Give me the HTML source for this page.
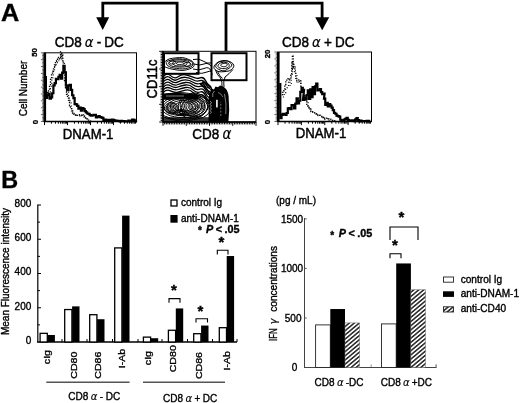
<!DOCTYPE html>
<html><head><meta charset="utf-8"><title>Figure</title>
<style>
html,body{margin:0;padding:0;background:#fff;}
svg{display:block;}
svg text{font-family:"Liberation Sans",sans-serif;fill:#000;stroke:#000;stroke-width:0.35px;}
svg .gk{font-family:"DejaVu Sans","Liberation Sans",sans-serif;font-style:italic;stroke-width:0.15px;}
svg text.big{stroke-width:0.42px;word-spacing:-0.6px;}
</style></head><body>
<svg width="520" height="403" viewBox="0 0 520 403">
<rect width="520" height="403" fill="#fff"/>
<text x="0.9" y="20.9" font-size="23.4" font-weight="bold" transform="translate(0.9 0) scale(1.08 1) translate(-0.9 0)">A</text>
<path d="M102.8 18 V3.1 H177.1 V51" fill="none" stroke="#000" stroke-width="2.8"/>
<polygon points="96.2,17.3 109.2,17.3 102.7,30" fill="#000"/>
<path d="M226 51 V3.1 H322.1 V18" fill="none" stroke="#000" stroke-width="2.8"/>
<polygon points="315.2,17.3 329.2,17.3 322.2,30.2" fill="#000"/>
<text class="big" x="54.7" y="47.2" font-size="13.5" transform="translate(0 47.2) scale(1 1.12) translate(0 -47.2)">CD8 <tspan class="gk" font-size="13.2">α</tspan> - DC</text>
<text class="big" x="281.9" y="47.2" font-size="13.5" transform="translate(0 47.2) scale(1 1.12) translate(0 -47.2)">CD8 <tspan class="gk" font-size="13.2">α</tspan> + DC</text>
<rect x="44.5" y="52.8" width="92.0" height="68.7" fill="none" stroke="#000" stroke-width="1"/>
<line x1="44.8" y1="52.8" x2="44.8" y2="122.0" stroke="#000" stroke-width="2.6"/>
<line x1="44.5" y1="121.5" x2="136.5" y2="121.5" stroke="#000" stroke-width="1.6"/>
<line x1="44.50" y1="121.5" x2="44.50" y2="125.1" stroke="#000" stroke-width="1.0"/>
<line x1="51.42" y1="121.5" x2="51.42" y2="123.7" stroke="#000" stroke-width="1.0"/>
<line x1="55.47" y1="121.5" x2="55.47" y2="123.7" stroke="#000" stroke-width="1.0"/>
<line x1="58.35" y1="121.5" x2="58.35" y2="123.7" stroke="#000" stroke-width="1.0"/>
<line x1="60.58" y1="121.5" x2="60.58" y2="123.7" stroke="#000" stroke-width="1.0"/>
<line x1="62.40" y1="121.5" x2="62.40" y2="123.7" stroke="#000" stroke-width="1.0"/>
<line x1="63.94" y1="121.5" x2="63.94" y2="123.7" stroke="#000" stroke-width="1.0"/>
<line x1="65.27" y1="121.5" x2="65.27" y2="123.7" stroke="#000" stroke-width="1.0"/>
<line x1="66.45" y1="121.5" x2="66.45" y2="123.7" stroke="#000" stroke-width="1.0"/>
<line x1="67.50" y1="121.5" x2="67.50" y2="125.1" stroke="#000" stroke-width="1.0"/>
<line x1="74.42" y1="121.5" x2="74.42" y2="123.7" stroke="#000" stroke-width="1.0"/>
<line x1="78.47" y1="121.5" x2="78.47" y2="123.7" stroke="#000" stroke-width="1.0"/>
<line x1="81.35" y1="121.5" x2="81.35" y2="123.7" stroke="#000" stroke-width="1.0"/>
<line x1="83.58" y1="121.5" x2="83.58" y2="123.7" stroke="#000" stroke-width="1.0"/>
<line x1="85.40" y1="121.5" x2="85.40" y2="123.7" stroke="#000" stroke-width="1.0"/>
<line x1="86.94" y1="121.5" x2="86.94" y2="123.7" stroke="#000" stroke-width="1.0"/>
<line x1="88.27" y1="121.5" x2="88.27" y2="123.7" stroke="#000" stroke-width="1.0"/>
<line x1="89.45" y1="121.5" x2="89.45" y2="123.7" stroke="#000" stroke-width="1.0"/>
<line x1="90.50" y1="121.5" x2="90.50" y2="125.1" stroke="#000" stroke-width="1.0"/>
<line x1="97.42" y1="121.5" x2="97.42" y2="123.7" stroke="#000" stroke-width="1.0"/>
<line x1="101.47" y1="121.5" x2="101.47" y2="123.7" stroke="#000" stroke-width="1.0"/>
<line x1="104.35" y1="121.5" x2="104.35" y2="123.7" stroke="#000" stroke-width="1.0"/>
<line x1="106.58" y1="121.5" x2="106.58" y2="123.7" stroke="#000" stroke-width="1.0"/>
<line x1="108.40" y1="121.5" x2="108.40" y2="123.7" stroke="#000" stroke-width="1.0"/>
<line x1="109.94" y1="121.5" x2="109.94" y2="123.7" stroke="#000" stroke-width="1.0"/>
<line x1="111.27" y1="121.5" x2="111.27" y2="123.7" stroke="#000" stroke-width="1.0"/>
<line x1="112.45" y1="121.5" x2="112.45" y2="123.7" stroke="#000" stroke-width="1.0"/>
<line x1="113.50" y1="121.5" x2="113.50" y2="125.1" stroke="#000" stroke-width="1.0"/>
<line x1="120.42" y1="121.5" x2="120.42" y2="123.7" stroke="#000" stroke-width="1.0"/>
<line x1="124.47" y1="121.5" x2="124.47" y2="123.7" stroke="#000" stroke-width="1.0"/>
<line x1="127.35" y1="121.5" x2="127.35" y2="123.7" stroke="#000" stroke-width="1.0"/>
<line x1="129.58" y1="121.5" x2="129.58" y2="123.7" stroke="#000" stroke-width="1.0"/>
<line x1="131.40" y1="121.5" x2="131.40" y2="123.7" stroke="#000" stroke-width="1.0"/>
<line x1="132.94" y1="121.5" x2="132.94" y2="123.7" stroke="#000" stroke-width="1.0"/>
<line x1="134.27" y1="121.5" x2="134.27" y2="123.7" stroke="#000" stroke-width="1.0"/>
<line x1="135.45" y1="121.5" x2="135.45" y2="123.7" stroke="#000" stroke-width="1.0"/>
<line x1="40.9" y1="121.50" x2="44.5" y2="121.50" stroke="#000" stroke-width="0.6"/>
<line x1="42.2" y1="120.13" x2="44.5" y2="120.13" stroke="#000" stroke-width="0.6"/>
<line x1="42.2" y1="118.75" x2="44.5" y2="118.75" stroke="#000" stroke-width="0.6"/>
<line x1="42.2" y1="117.38" x2="44.5" y2="117.38" stroke="#000" stroke-width="0.6"/>
<line x1="42.2" y1="116.00" x2="44.5" y2="116.00" stroke="#000" stroke-width="0.6"/>
<line x1="40.9" y1="114.63" x2="44.5" y2="114.63" stroke="#000" stroke-width="0.6"/>
<line x1="42.2" y1="113.26" x2="44.5" y2="113.26" stroke="#000" stroke-width="0.6"/>
<line x1="42.2" y1="111.88" x2="44.5" y2="111.88" stroke="#000" stroke-width="0.6"/>
<line x1="42.2" y1="110.51" x2="44.5" y2="110.51" stroke="#000" stroke-width="0.6"/>
<line x1="42.2" y1="109.13" x2="44.5" y2="109.13" stroke="#000" stroke-width="0.6"/>
<line x1="40.9" y1="107.76" x2="44.5" y2="107.76" stroke="#000" stroke-width="0.6"/>
<line x1="42.2" y1="106.39" x2="44.5" y2="106.39" stroke="#000" stroke-width="0.6"/>
<line x1="42.2" y1="105.01" x2="44.5" y2="105.01" stroke="#000" stroke-width="0.6"/>
<line x1="42.2" y1="103.64" x2="44.5" y2="103.64" stroke="#000" stroke-width="0.6"/>
<line x1="42.2" y1="102.26" x2="44.5" y2="102.26" stroke="#000" stroke-width="0.6"/>
<line x1="40.9" y1="100.89" x2="44.5" y2="100.89" stroke="#000" stroke-width="0.6"/>
<line x1="42.2" y1="99.52" x2="44.5" y2="99.52" stroke="#000" stroke-width="0.6"/>
<line x1="42.2" y1="98.14" x2="44.5" y2="98.14" stroke="#000" stroke-width="0.6"/>
<line x1="42.2" y1="96.77" x2="44.5" y2="96.77" stroke="#000" stroke-width="0.6"/>
<line x1="42.2" y1="95.39" x2="44.5" y2="95.39" stroke="#000" stroke-width="0.6"/>
<line x1="40.9" y1="94.02" x2="44.5" y2="94.02" stroke="#000" stroke-width="0.6"/>
<line x1="42.2" y1="92.65" x2="44.5" y2="92.65" stroke="#000" stroke-width="0.6"/>
<line x1="42.2" y1="91.27" x2="44.5" y2="91.27" stroke="#000" stroke-width="0.6"/>
<line x1="42.2" y1="89.90" x2="44.5" y2="89.90" stroke="#000" stroke-width="0.6"/>
<line x1="42.2" y1="88.52" x2="44.5" y2="88.52" stroke="#000" stroke-width="0.6"/>
<line x1="40.9" y1="87.15" x2="44.5" y2="87.15" stroke="#000" stroke-width="0.6"/>
<line x1="42.2" y1="85.78" x2="44.5" y2="85.78" stroke="#000" stroke-width="0.6"/>
<line x1="42.2" y1="84.40" x2="44.5" y2="84.40" stroke="#000" stroke-width="0.6"/>
<line x1="42.2" y1="83.03" x2="44.5" y2="83.03" stroke="#000" stroke-width="0.6"/>
<line x1="42.2" y1="81.65" x2="44.5" y2="81.65" stroke="#000" stroke-width="0.6"/>
<line x1="40.9" y1="80.28" x2="44.5" y2="80.28" stroke="#000" stroke-width="0.6"/>
<line x1="42.2" y1="78.91" x2="44.5" y2="78.91" stroke="#000" stroke-width="0.6"/>
<line x1="42.2" y1="77.53" x2="44.5" y2="77.53" stroke="#000" stroke-width="0.6"/>
<line x1="42.2" y1="76.16" x2="44.5" y2="76.16" stroke="#000" stroke-width="0.6"/>
<line x1="42.2" y1="74.78" x2="44.5" y2="74.78" stroke="#000" stroke-width="0.6"/>
<line x1="40.9" y1="73.41" x2="44.5" y2="73.41" stroke="#000" stroke-width="0.6"/>
<line x1="42.2" y1="72.04" x2="44.5" y2="72.04" stroke="#000" stroke-width="0.6"/>
<line x1="42.2" y1="70.66" x2="44.5" y2="70.66" stroke="#000" stroke-width="0.6"/>
<line x1="42.2" y1="69.29" x2="44.5" y2="69.29" stroke="#000" stroke-width="0.6"/>
<line x1="42.2" y1="67.91" x2="44.5" y2="67.91" stroke="#000" stroke-width="0.6"/>
<line x1="40.9" y1="66.54" x2="44.5" y2="66.54" stroke="#000" stroke-width="0.6"/>
<line x1="42.2" y1="65.17" x2="44.5" y2="65.17" stroke="#000" stroke-width="0.6"/>
<line x1="42.2" y1="63.79" x2="44.5" y2="63.79" stroke="#000" stroke-width="0.6"/>
<line x1="42.2" y1="62.42" x2="44.5" y2="62.42" stroke="#000" stroke-width="0.6"/>
<line x1="42.2" y1="61.04" x2="44.5" y2="61.04" stroke="#000" stroke-width="0.6"/>
<line x1="40.9" y1="59.67" x2="44.5" y2="59.67" stroke="#000" stroke-width="0.6"/>
<line x1="42.2" y1="58.30" x2="44.5" y2="58.30" stroke="#000" stroke-width="0.6"/>
<line x1="42.2" y1="56.92" x2="44.5" y2="56.92" stroke="#000" stroke-width="0.6"/>
<line x1="42.2" y1="55.55" x2="44.5" y2="55.55" stroke="#000" stroke-width="0.6"/>
<line x1="42.2" y1="54.17" x2="44.5" y2="54.17" stroke="#000" stroke-width="0.6"/>
<line x1="40.9" y1="52.80" x2="44.5" y2="52.80" stroke="#000" stroke-width="0.6"/>
<rect x="278" y="52" width="93.5" height="69.5" fill="none" stroke="#000" stroke-width="1"/>
<line x1="278.3" y1="52" x2="278.3" y2="122.0" stroke="#000" stroke-width="2.6"/>
<line x1="278" y1="121.5" x2="371.5" y2="121.5" stroke="#000" stroke-width="1.6"/>
<line x1="278.00" y1="121.5" x2="278.00" y2="125.1" stroke="#000" stroke-width="1.0"/>
<line x1="285.04" y1="121.5" x2="285.04" y2="123.7" stroke="#000" stroke-width="1.0"/>
<line x1="289.15" y1="121.5" x2="289.15" y2="123.7" stroke="#000" stroke-width="1.0"/>
<line x1="292.07" y1="121.5" x2="292.07" y2="123.7" stroke="#000" stroke-width="1.0"/>
<line x1="294.34" y1="121.5" x2="294.34" y2="123.7" stroke="#000" stroke-width="1.0"/>
<line x1="296.19" y1="121.5" x2="296.19" y2="123.7" stroke="#000" stroke-width="1.0"/>
<line x1="297.75" y1="121.5" x2="297.75" y2="123.7" stroke="#000" stroke-width="1.0"/>
<line x1="299.11" y1="121.5" x2="299.11" y2="123.7" stroke="#000" stroke-width="1.0"/>
<line x1="300.31" y1="121.5" x2="300.31" y2="123.7" stroke="#000" stroke-width="1.0"/>
<line x1="301.38" y1="121.5" x2="301.38" y2="125.1" stroke="#000" stroke-width="1.0"/>
<line x1="308.41" y1="121.5" x2="308.41" y2="123.7" stroke="#000" stroke-width="1.0"/>
<line x1="312.53" y1="121.5" x2="312.53" y2="123.7" stroke="#000" stroke-width="1.0"/>
<line x1="315.45" y1="121.5" x2="315.45" y2="123.7" stroke="#000" stroke-width="1.0"/>
<line x1="317.71" y1="121.5" x2="317.71" y2="123.7" stroke="#000" stroke-width="1.0"/>
<line x1="319.56" y1="121.5" x2="319.56" y2="123.7" stroke="#000" stroke-width="1.0"/>
<line x1="321.13" y1="121.5" x2="321.13" y2="123.7" stroke="#000" stroke-width="1.0"/>
<line x1="322.48" y1="121.5" x2="322.48" y2="123.7" stroke="#000" stroke-width="1.0"/>
<line x1="323.68" y1="121.5" x2="323.68" y2="123.7" stroke="#000" stroke-width="1.0"/>
<line x1="324.75" y1="121.5" x2="324.75" y2="125.1" stroke="#000" stroke-width="1.0"/>
<line x1="331.79" y1="121.5" x2="331.79" y2="123.7" stroke="#000" stroke-width="1.0"/>
<line x1="335.90" y1="121.5" x2="335.90" y2="123.7" stroke="#000" stroke-width="1.0"/>
<line x1="338.82" y1="121.5" x2="338.82" y2="123.7" stroke="#000" stroke-width="1.0"/>
<line x1="341.09" y1="121.5" x2="341.09" y2="123.7" stroke="#000" stroke-width="1.0"/>
<line x1="342.94" y1="121.5" x2="342.94" y2="123.7" stroke="#000" stroke-width="1.0"/>
<line x1="344.50" y1="121.5" x2="344.50" y2="123.7" stroke="#000" stroke-width="1.0"/>
<line x1="345.86" y1="121.5" x2="345.86" y2="123.7" stroke="#000" stroke-width="1.0"/>
<line x1="347.06" y1="121.5" x2="347.06" y2="123.7" stroke="#000" stroke-width="1.0"/>
<line x1="348.12" y1="121.5" x2="348.12" y2="125.1" stroke="#000" stroke-width="1.0"/>
<line x1="355.16" y1="121.5" x2="355.16" y2="123.7" stroke="#000" stroke-width="1.0"/>
<line x1="359.28" y1="121.5" x2="359.28" y2="123.7" stroke="#000" stroke-width="1.0"/>
<line x1="362.20" y1="121.5" x2="362.20" y2="123.7" stroke="#000" stroke-width="1.0"/>
<line x1="364.46" y1="121.5" x2="364.46" y2="123.7" stroke="#000" stroke-width="1.0"/>
<line x1="366.31" y1="121.5" x2="366.31" y2="123.7" stroke="#000" stroke-width="1.0"/>
<line x1="367.88" y1="121.5" x2="367.88" y2="123.7" stroke="#000" stroke-width="1.0"/>
<line x1="369.23" y1="121.5" x2="369.23" y2="123.7" stroke="#000" stroke-width="1.0"/>
<line x1="370.43" y1="121.5" x2="370.43" y2="123.7" stroke="#000" stroke-width="1.0"/>
<line x1="274.4" y1="121.50" x2="278" y2="121.50" stroke="#000" stroke-width="0.6"/>
<line x1="275.7" y1="120.11" x2="278" y2="120.11" stroke="#000" stroke-width="0.6"/>
<line x1="275.7" y1="118.72" x2="278" y2="118.72" stroke="#000" stroke-width="0.6"/>
<line x1="275.7" y1="117.33" x2="278" y2="117.33" stroke="#000" stroke-width="0.6"/>
<line x1="275.7" y1="115.94" x2="278" y2="115.94" stroke="#000" stroke-width="0.6"/>
<line x1="274.4" y1="114.55" x2="278" y2="114.55" stroke="#000" stroke-width="0.6"/>
<line x1="275.7" y1="113.16" x2="278" y2="113.16" stroke="#000" stroke-width="0.6"/>
<line x1="275.7" y1="111.77" x2="278" y2="111.77" stroke="#000" stroke-width="0.6"/>
<line x1="275.7" y1="110.38" x2="278" y2="110.38" stroke="#000" stroke-width="0.6"/>
<line x1="275.7" y1="108.99" x2="278" y2="108.99" stroke="#000" stroke-width="0.6"/>
<line x1="274.4" y1="107.60" x2="278" y2="107.60" stroke="#000" stroke-width="0.6"/>
<line x1="275.7" y1="106.21" x2="278" y2="106.21" stroke="#000" stroke-width="0.6"/>
<line x1="275.7" y1="104.82" x2="278" y2="104.82" stroke="#000" stroke-width="0.6"/>
<line x1="275.7" y1="103.43" x2="278" y2="103.43" stroke="#000" stroke-width="0.6"/>
<line x1="275.7" y1="102.04" x2="278" y2="102.04" stroke="#000" stroke-width="0.6"/>
<line x1="274.4" y1="100.65" x2="278" y2="100.65" stroke="#000" stroke-width="0.6"/>
<line x1="275.7" y1="99.26" x2="278" y2="99.26" stroke="#000" stroke-width="0.6"/>
<line x1="275.7" y1="97.87" x2="278" y2="97.87" stroke="#000" stroke-width="0.6"/>
<line x1="275.7" y1="96.48" x2="278" y2="96.48" stroke="#000" stroke-width="0.6"/>
<line x1="275.7" y1="95.09" x2="278" y2="95.09" stroke="#000" stroke-width="0.6"/>
<line x1="274.4" y1="93.70" x2="278" y2="93.70" stroke="#000" stroke-width="0.6"/>
<line x1="275.7" y1="92.31" x2="278" y2="92.31" stroke="#000" stroke-width="0.6"/>
<line x1="275.7" y1="90.92" x2="278" y2="90.92" stroke="#000" stroke-width="0.6"/>
<line x1="275.7" y1="89.53" x2="278" y2="89.53" stroke="#000" stroke-width="0.6"/>
<line x1="275.7" y1="88.14" x2="278" y2="88.14" stroke="#000" stroke-width="0.6"/>
<line x1="274.4" y1="86.75" x2="278" y2="86.75" stroke="#000" stroke-width="0.6"/>
<line x1="275.7" y1="85.36" x2="278" y2="85.36" stroke="#000" stroke-width="0.6"/>
<line x1="275.7" y1="83.97" x2="278" y2="83.97" stroke="#000" stroke-width="0.6"/>
<line x1="275.7" y1="82.58" x2="278" y2="82.58" stroke="#000" stroke-width="0.6"/>
<line x1="275.7" y1="81.19" x2="278" y2="81.19" stroke="#000" stroke-width="0.6"/>
<line x1="274.4" y1="79.80" x2="278" y2="79.80" stroke="#000" stroke-width="0.6"/>
<line x1="275.7" y1="78.41" x2="278" y2="78.41" stroke="#000" stroke-width="0.6"/>
<line x1="275.7" y1="77.02" x2="278" y2="77.02" stroke="#000" stroke-width="0.6"/>
<line x1="275.7" y1="75.63" x2="278" y2="75.63" stroke="#000" stroke-width="0.6"/>
<line x1="275.7" y1="74.24" x2="278" y2="74.24" stroke="#000" stroke-width="0.6"/>
<line x1="274.4" y1="72.85" x2="278" y2="72.85" stroke="#000" stroke-width="0.6"/>
<line x1="275.7" y1="71.46" x2="278" y2="71.46" stroke="#000" stroke-width="0.6"/>
<line x1="275.7" y1="70.07" x2="278" y2="70.07" stroke="#000" stroke-width="0.6"/>
<line x1="275.7" y1="68.68" x2="278" y2="68.68" stroke="#000" stroke-width="0.6"/>
<line x1="275.7" y1="67.29" x2="278" y2="67.29" stroke="#000" stroke-width="0.6"/>
<line x1="274.4" y1="65.90" x2="278" y2="65.90" stroke="#000" stroke-width="0.6"/>
<line x1="275.7" y1="64.51" x2="278" y2="64.51" stroke="#000" stroke-width="0.6"/>
<line x1="275.7" y1="63.12" x2="278" y2="63.12" stroke="#000" stroke-width="0.6"/>
<line x1="275.7" y1="61.73" x2="278" y2="61.73" stroke="#000" stroke-width="0.6"/>
<line x1="275.7" y1="60.34" x2="278" y2="60.34" stroke="#000" stroke-width="0.6"/>
<line x1="274.4" y1="58.95" x2="278" y2="58.95" stroke="#000" stroke-width="0.6"/>
<line x1="275.7" y1="57.56" x2="278" y2="57.56" stroke="#000" stroke-width="0.6"/>
<line x1="275.7" y1="56.17" x2="278" y2="56.17" stroke="#000" stroke-width="0.6"/>
<line x1="275.7" y1="54.78" x2="278" y2="54.78" stroke="#000" stroke-width="0.6"/>
<line x1="275.7" y1="53.39" x2="278" y2="53.39" stroke="#000" stroke-width="0.6"/>
<line x1="274.4" y1="52.00" x2="278" y2="52.00" stroke="#000" stroke-width="0.6"/>
<polyline points="45.90,76.00 45.90,97.86 47.15,97.86 47.15,95.07 48.40,95.07 48.40,93.96 49.65,93.96 49.65,98.54 50.90,98.54 50.90,97.31 52.15,97.31 52.15,93.25 53.40,93.25 53.40,85.38 54.65,85.38 54.65,83.08 55.90,83.08 55.90,78.84 57.15,78.84 57.15,79.24 58.40,79.24 58.40,76.85 59.65,76.85 59.65,74.84 60.90,74.84 60.90,78.57 62.15,78.57 62.15,72.53 63.40,72.53 63.40,65.92 64.65,65.92 64.65,72.43 65.90,72.43 65.90,85.73 67.15,85.73 67.15,90.17 68.40,90.17 68.40,85.41 69.65,85.41 69.65,84.90 70.90,84.90 70.90,89.95 72.15,89.95 72.15,95.23 73.40,95.23 73.40,98.15 74.65,98.15 74.65,104.11 75.90,104.11 75.90,104.38 77.15,104.38 77.15,105.78 78.40,105.78 78.40,108.62 79.65,108.62 79.65,107.69 80.90,107.69 80.90,110.60 82.15,110.60 82.15,108.07 83.40,108.07 83.40,109.09 84.65,109.09 84.65,111.03 85.90,111.03 85.90,112.46 87.15,112.46 87.15,113.49 88.40,113.49 88.40,113.89 89.65,113.89 89.65,115.21 90.90,115.21 90.90,115.73 92.15,115.73 92.15,115.47 93.40,115.47 93.40,114.83 94.65,114.83 94.65,114.83 95.90,114.83 95.90,117.41 97.15,117.41 97.15,116.73 98.40,116.73 98.40,115.99 99.65,115.99 99.65,117.07 100.90,117.07 100.90,117.30 102.15,117.30 102.15,117.93 103.40,117.93 103.40,119.81 104.65,119.81 104.65,119.57 105.90,119.57 105.90,119.82 107.15,119.82 107.15,120.41 108.40,120.41 108.40,119.76 109.65,119.76 109.65,119.85 110.90,119.85 110.90,120.29 112.15,120.29 112.15,119.48 113.40,119.48 113.40,120.14 114.65,120.14 114.65,120.64 115.90,120.64 115.90,120.55 117.15,120.55 117.15,120.90 118.40,120.90 118.40,120.99 119.65,120.99 119.65,121.30 120.90,121.30 120.90,120.84 122.15,120.84 122.15,121.24 123.40,121.24 123.40,121.20 124.65,121.20 124.65,121.30 125.90,121.30 125.90,121.30 127.15,121.30 127.15,121.25 128.40,121.25 128.40,120.68 129.65,120.68 129.65,121.30 130.90,121.30 130.90,120.82 132.15,120.82 132.15,119.58 133.40,119.58 133.40,119.88 134.65,119.88 134.65,120.95 135.90,120.95 135.90,121.30 137.15,121.30" fill="none" stroke="#000" stroke-width="2.2" stroke-linejoin="miter"/>
<polyline points="46.50,94.87 47.50,94.87 47.50,91.18 48.50,91.18 48.50,89.90 49.50,89.90 49.50,85.42 50.50,85.42 50.50,78.29 51.50,78.29 51.50,74.10 52.50,74.10 52.50,71.27 53.50,71.27 53.50,67.36 54.50,67.36 54.50,65.01 55.50,65.01 55.50,61.24 56.50,61.24 56.50,60.64 57.50,60.64 57.50,59.11 58.50,59.11 58.50,57.38 59.50,57.38 59.50,58.94 60.50,58.94 60.50,52.02 61.50,52.02 61.50,55.41 62.50,55.41 62.50,62.83 63.50,62.83 63.50,74.15 64.50,74.15 64.50,81.50 65.50,81.50 65.50,87.84 66.50,87.84 66.50,94.24 67.50,94.24 67.50,97.14 68.50,97.14 68.50,100.28 69.50,100.28 69.50,105.82 70.50,105.82 70.50,107.14 71.50,107.14 71.50,110.81 72.50,110.81 72.50,112.98 73.50,112.98 73.50,114.07 74.50,114.07 74.50,114.73 75.50,114.73 75.50,114.98 76.50,114.98 76.50,114.57 77.50,114.57 77.50,115.36 78.50,115.36 78.50,115.28 79.50,115.28 79.50,114.69 80.50,114.69 80.50,115.14 81.50,115.14 81.50,115.55 82.50,115.55 82.50,114.80 83.50,114.80 83.50,115.78 84.50,115.78 84.50,117.70 85.50,117.70 85.50,118.84 86.50,118.84 86.50,118.98 87.50,118.98 87.50,119.56 88.50,119.56 88.50,120.18 89.50,120.18 89.50,120.20 90.50,120.20 90.50,121.30 91.50,121.30" fill="none" stroke="#000" stroke-width="1.3" stroke-dasharray="1.3 1.4" stroke-linejoin="miter"/>
<polyline points="47.60,92.56 49.00,92.56 49.00,92.76 50.40,92.76 50.40,86.27 51.80,86.27 51.80,77.70 53.20,77.70 53.20,71.16 54.60,71.16 54.60,66.53 56.00,66.53 56.00,64.59 57.40,64.59 57.40,62.17 58.80,62.17 58.80,59.80 60.20,59.80 60.20,56.52 61.60,56.52 61.60,54.97 63.00,54.97 63.00,60.97 64.40,60.97 64.40,71.98 65.80,71.98 65.80,85.20 67.20,85.20 67.20,92.01 68.60,92.01 68.60,98.13 70.00,98.13 70.00,102.96 71.40,102.96 71.40,108.72 72.80,108.72 72.80,113.28 74.20,113.28 74.20,115.05 75.60,115.05 75.60,115.92 77.00,115.92 77.00,115.50 78.40,115.50 78.40,116.14 79.80,116.14 79.80,115.83 81.20,115.83 81.20,115.27 82.60,115.27 82.60,116.85 84.00,116.85 84.00,117.32 85.40,117.32 85.40,118.33 86.80,118.33 86.80,119.33 88.20,119.33" fill="none" stroke="#111" stroke-width="1.1" stroke-dasharray="1.1 2.2" stroke-linejoin="miter"/>
<polyline points="280.30,83.00 280.30,118.16 281.55,118.16 281.55,114.91 282.80,114.91 282.80,113.88 284.05,113.88 284.05,114.23 285.30,114.23 285.30,115.00 286.55,115.00 286.55,112.98 287.80,112.98 287.80,108.34 289.05,108.34 289.05,108.18 290.30,108.18 290.30,109.03 291.55,109.03 291.55,105.07 292.80,105.07 292.80,105.18 294.05,105.18 294.05,108.45 295.30,108.45 295.30,103.55 296.55,103.55 296.55,98.24 297.80,98.24 297.80,103.33 299.05,103.33 299.05,100.76 300.30,100.76 300.30,91.90 301.55,91.90 301.55,87.92 302.80,87.92 302.80,89.80 304.05,89.80 303.00,99.92 304.20,99.92 304.20,97.46 305.40,97.46 305.40,98.86 306.60,98.86 306.60,94.99 307.80,94.99 307.80,90.44 309.00,90.44 309.00,98.83 310.20,98.83 310.20,89.44 311.40,89.44 311.40,97.26 312.60,97.26 312.60,87.03 313.80,87.03 313.80,94.13 315.00,94.13 315.00,86.46 316.20,86.46 316.20,83.57 317.40,83.57 317.40,90.42 318.60,90.42 318.60,90.30 319.80,90.30 319.80,89.02 321.00,89.02 321.00,92.22 322.20,92.22 322.20,94.14 323.40,94.14 323.40,93.54 324.60,93.54 324.00,98.61 325.25,98.61 325.25,104.98 326.50,104.98 326.50,102.79 327.75,102.79 327.75,106.40 329.00,106.40 329.00,104.04 330.25,104.04 330.25,105.68 331.50,105.68 331.50,107.62 332.75,107.62 332.75,110.08 334.00,110.08 334.00,112.92 335.25,112.92 335.25,113.73 336.50,113.73 336.50,115.70 337.75,115.70 337.75,116.17 339.00,116.17 339.00,116.65 340.25,116.65 340.25,119.73 341.50,119.73 341.50,120.29 342.75,120.29 342.75,120.78 344.00,120.78 344.00,119.66 345.25,119.66 345.25,118.96 346.50,118.96 346.50,117.78 347.75,117.78 347.75,119.78 349.00,119.78 349.00,120.60 350.25,120.60 350.25,120.99 351.50,120.99 351.50,120.47 352.75,120.47 352.75,120.27 354.00,120.27 354.00,121.05 355.25,121.05 355.25,119.30 356.50,119.30 356.50,118.06 357.75,118.06 357.75,120.01 359.00,120.01 359.00,121.38 360.25,121.38 360.25,120.57 361.50,120.57 361.50,121.03 362.75,121.03 362.75,121.21 364.00,121.21 364.00,120.98 365.25,120.98 365.25,121.02 366.50,121.02 366.50,120.77 367.75,120.77 367.75,121.49 369.00,121.49 369.00,120.95 370.25,120.95" fill="none" stroke="#000" stroke-width="2.2" stroke-linejoin="miter"/>
<polyline points="281.80,94.67 282.80,94.67 282.80,91.14 283.80,91.14 283.80,89.12 284.80,89.12 284.80,86.21 285.80,86.21 285.80,81.12 286.80,81.12 286.80,79.14 287.80,79.14 287.80,78.88 288.80,78.88 288.80,79.91 289.80,79.91 289.80,79.28 290.80,79.28 290.80,73.60 291.80,73.60 291.80,61.98 292.80,61.98 292.80,63.47 293.80,63.47 293.80,67.76 294.80,67.76 294.80,73.42 295.80,73.42 295.80,78.29 296.80,78.29 296.80,80.53 297.80,80.53 297.80,80.18 298.80,80.18 298.80,80.01 299.80,80.01 299.80,80.66 300.80,80.66 300.80,86.16 301.80,86.16 301.80,88.71 302.80,88.71 302.80,91.68 303.80,91.68 303.80,94.99 304.80,94.99 304.80,99.74 305.80,99.74 305.80,101.35 306.80,101.35 306.80,105.70 307.80,105.70 307.80,107.20 308.80,107.20 308.80,108.96 309.80,108.96 309.80,108.97 310.80,108.97 310.80,111.68 311.80,111.68 311.80,111.86 312.80,111.86 312.80,112.44 313.80,112.44 313.80,112.86 314.80,112.86 314.80,113.62 315.80,113.62 315.80,113.74 316.80,113.74 316.80,113.64 317.80,113.64 317.80,114.82 318.80,114.82 318.80,115.11 319.80,115.11 319.80,115.41 320.80,115.41 320.80,116.40 321.80,116.40 321.80,117.31 322.80,117.31 322.80,117.51 323.80,117.51 323.80,117.24 324.80,117.24 324.80,118.54 325.80,118.54 325.80,118.47 326.80,118.47 326.80,118.19 327.80,118.19 327.80,118.58 328.80,118.58 328.80,119.16 329.80,119.16 329.80,119.19 330.80,119.19 330.80,119.71 331.80,119.71 331.80,120.42 332.80,120.42 332.80,120.80 333.80,120.80 333.80,120.76 334.80,120.76 334.80,120.53 335.80,120.53" fill="none" stroke="#000" stroke-width="1.3" stroke-dasharray="1.3 1.4" stroke-linejoin="miter"/>
<polyline points="282.90,97.00 284.30,97.00 284.30,92.93 285.70,92.93 285.70,87.97 287.10,87.97 287.10,85.50 288.50,85.50 288.50,79.72 289.90,79.72 289.90,85.55 291.30,85.55 291.30,74.44 292.70,74.44 292.70,67.59 294.10,67.59 294.10,65.79 295.50,65.79 295.50,75.48 296.90,75.48 296.90,83.01 298.30,83.01 298.30,80.73 299.70,80.73 299.70,81.65 301.10,81.65 301.10,88.10 302.50,88.10 302.50,91.60 303.90,91.60 303.90,94.05 305.30,94.05 305.30,99.72 306.70,99.72 306.70,101.86 308.10,101.86 308.10,105.73 309.50,105.73 309.50,107.99 310.90,107.99 310.90,110.46 312.30,110.46 312.30,111.49 313.70,111.49 313.70,112.75 315.10,112.75 315.10,113.62 316.50,113.62 316.50,115.75 317.90,115.75 317.90,114.76 319.30,114.76 319.30,115.23 320.70,115.23 320.70,116.90 322.10,116.90 322.10,117.67 323.50,117.67 323.50,117.28 324.90,117.28 324.90,119.39 326.30,119.39 326.30,118.81 327.70,118.81 327.70,118.74 329.10,118.74 329.10,120.27 330.50,120.27 330.50,120.03 331.90,120.03" fill="none" stroke="#111" stroke-width="1.1" stroke-dasharray="1.1 2.2" stroke-linejoin="miter"/>
<polyline points="292.30,70.00 292.30,55.50 293.30,55.50 293.30,68.00" fill="none" stroke="#000" stroke-width="1.2" stroke-dasharray="1.2 1.4" stroke-linejoin="miter"/>
<polyline points="60.60,58.00 60.60,53.50 61.80,53.50 61.80,60.00" fill="none" stroke="#000" stroke-width="1.2" stroke-dasharray="1.2 1.4" stroke-linejoin="miter"/>
<text x="88.1" y="138.8" font-size="13.2" text-anchor="middle" font-weight="normal" font-style="normal" transform="translate(88.1 138.8) scale(1 1.12) translate(-88.1 -138.8)" class="big">DNAM-1</text>
<text x="321" y="138.4" font-size="13.2" text-anchor="middle" font-weight="normal" font-style="normal" transform="translate(321 138.4) scale(1 1.12) translate(-321 -138.4)" class="big">DNAM-1</text>
<text x="27" y="88.5" font-size="10" text-anchor="middle" font-weight="normal" font-style="normal" transform="rotate(-90 27 88.5) translate(27 88.5) scale(1 1.06) translate(-27 -88.5)" >Cell Number</text>
<text x="37.5" y="52.4" font-size="7.8" text-anchor="middle" font-weight="bold" font-style="normal" transform="rotate(-90 37.5 52.4)" >50</text>
<text x="37.5" y="122" font-size="7.8" text-anchor="middle" font-weight="bold" font-style="normal" transform="rotate(-90 37.5 122)" >0</text>
<text x="269.5" y="54" font-size="7.8" text-anchor="middle" font-weight="bold" font-style="normal" transform="rotate(-90 269.5 54)" >20</text>
<text x="269.5" y="122" font-size="7.8" text-anchor="middle" font-weight="bold" font-style="normal" transform="rotate(-90 269.5 122)" >0</text>
<rect x="163" y="51.3" width="93" height="70.7" fill="none" stroke="#000" stroke-width="1"/>
<line x1="163" y1="51.3" x2="163" y2="122" stroke="#000" stroke-width="1.6"/>
<line x1="163" y1="122" x2="256" y2="122" stroke="#000" stroke-width="1.6"/>
<line x1="163.00" y1="122" x2="163.00" y2="125.8" stroke="#000" stroke-width="1.0"/>
<line x1="164.66" y1="122" x2="164.66" y2="124.4" stroke="#000" stroke-width="1.0"/>
<line x1="166.32" y1="122" x2="166.32" y2="124.4" stroke="#000" stroke-width="1.0"/>
<line x1="167.98" y1="122" x2="167.98" y2="124.4" stroke="#000" stroke-width="1.0"/>
<line x1="169.64" y1="122" x2="169.64" y2="124.4" stroke="#000" stroke-width="1.0"/>
<line x1="171.30" y1="122" x2="171.30" y2="124.4" stroke="#000" stroke-width="1.0"/>
<line x1="172.96" y1="122" x2="172.96" y2="124.4" stroke="#000" stroke-width="1.0"/>
<line x1="174.62" y1="122" x2="174.62" y2="124.4" stroke="#000" stroke-width="1.0"/>
<line x1="176.29" y1="122" x2="176.29" y2="124.4" stroke="#000" stroke-width="1.0"/>
<line x1="177.95" y1="122" x2="177.95" y2="124.4" stroke="#000" stroke-width="1.0"/>
<line x1="179.61" y1="122" x2="179.61" y2="124.4" stroke="#000" stroke-width="1.0"/>
<line x1="181.27" y1="122" x2="181.27" y2="124.4" stroke="#000" stroke-width="1.0"/>
<line x1="182.93" y1="122" x2="182.93" y2="124.4" stroke="#000" stroke-width="1.0"/>
<line x1="184.59" y1="122" x2="184.59" y2="124.4" stroke="#000" stroke-width="1.0"/>
<line x1="186.25" y1="122" x2="186.25" y2="125.8" stroke="#000" stroke-width="1.0"/>
<line x1="187.91" y1="122" x2="187.91" y2="124.4" stroke="#000" stroke-width="1.0"/>
<line x1="189.57" y1="122" x2="189.57" y2="124.4" stroke="#000" stroke-width="1.0"/>
<line x1="191.23" y1="122" x2="191.23" y2="124.4" stroke="#000" stroke-width="1.0"/>
<line x1="192.89" y1="122" x2="192.89" y2="124.4" stroke="#000" stroke-width="1.0"/>
<line x1="194.55" y1="122" x2="194.55" y2="124.4" stroke="#000" stroke-width="1.0"/>
<line x1="196.21" y1="122" x2="196.21" y2="124.4" stroke="#000" stroke-width="1.0"/>
<line x1="197.88" y1="122" x2="197.88" y2="124.4" stroke="#000" stroke-width="1.0"/>
<line x1="199.54" y1="122" x2="199.54" y2="124.4" stroke="#000" stroke-width="1.0"/>
<line x1="201.20" y1="122" x2="201.20" y2="124.4" stroke="#000" stroke-width="1.0"/>
<line x1="202.86" y1="122" x2="202.86" y2="124.4" stroke="#000" stroke-width="1.0"/>
<line x1="204.52" y1="122" x2="204.52" y2="124.4" stroke="#000" stroke-width="1.0"/>
<line x1="206.18" y1="122" x2="206.18" y2="124.4" stroke="#000" stroke-width="1.0"/>
<line x1="207.84" y1="122" x2="207.84" y2="124.4" stroke="#000" stroke-width="1.0"/>
<line x1="209.50" y1="122" x2="209.50" y2="125.8" stroke="#000" stroke-width="1.0"/>
<line x1="211.16" y1="122" x2="211.16" y2="124.4" stroke="#000" stroke-width="1.0"/>
<line x1="212.82" y1="122" x2="212.82" y2="124.4" stroke="#000" stroke-width="1.0"/>
<line x1="214.48" y1="122" x2="214.48" y2="124.4" stroke="#000" stroke-width="1.0"/>
<line x1="216.14" y1="122" x2="216.14" y2="124.4" stroke="#000" stroke-width="1.0"/>
<line x1="217.80" y1="122" x2="217.80" y2="124.4" stroke="#000" stroke-width="1.0"/>
<line x1="219.46" y1="122" x2="219.46" y2="124.4" stroke="#000" stroke-width="1.0"/>
<line x1="221.12" y1="122" x2="221.12" y2="124.4" stroke="#000" stroke-width="1.0"/>
<line x1="222.79" y1="122" x2="222.79" y2="124.4" stroke="#000" stroke-width="1.0"/>
<line x1="224.45" y1="122" x2="224.45" y2="124.4" stroke="#000" stroke-width="1.0"/>
<line x1="226.11" y1="122" x2="226.11" y2="124.4" stroke="#000" stroke-width="1.0"/>
<line x1="227.77" y1="122" x2="227.77" y2="124.4" stroke="#000" stroke-width="1.0"/>
<line x1="229.43" y1="122" x2="229.43" y2="124.4" stroke="#000" stroke-width="1.0"/>
<line x1="231.09" y1="122" x2="231.09" y2="124.4" stroke="#000" stroke-width="1.0"/>
<line x1="232.75" y1="122" x2="232.75" y2="125.8" stroke="#000" stroke-width="1.0"/>
<line x1="234.41" y1="122" x2="234.41" y2="124.4" stroke="#000" stroke-width="1.0"/>
<line x1="236.07" y1="122" x2="236.07" y2="124.4" stroke="#000" stroke-width="1.0"/>
<line x1="237.73" y1="122" x2="237.73" y2="124.4" stroke="#000" stroke-width="1.0"/>
<line x1="239.39" y1="122" x2="239.39" y2="124.4" stroke="#000" stroke-width="1.0"/>
<line x1="241.05" y1="122" x2="241.05" y2="124.4" stroke="#000" stroke-width="1.0"/>
<line x1="242.71" y1="122" x2="242.71" y2="124.4" stroke="#000" stroke-width="1.0"/>
<line x1="244.38" y1="122" x2="244.38" y2="124.4" stroke="#000" stroke-width="1.0"/>
<line x1="246.04" y1="122" x2="246.04" y2="124.4" stroke="#000" stroke-width="1.0"/>
<line x1="247.70" y1="122" x2="247.70" y2="124.4" stroke="#000" stroke-width="1.0"/>
<line x1="249.36" y1="122" x2="249.36" y2="124.4" stroke="#000" stroke-width="1.0"/>
<line x1="251.02" y1="122" x2="251.02" y2="124.4" stroke="#000" stroke-width="1.0"/>
<line x1="252.68" y1="122" x2="252.68" y2="124.4" stroke="#000" stroke-width="1.0"/>
<line x1="254.34" y1="122" x2="254.34" y2="124.4" stroke="#000" stroke-width="1.0"/>
<line x1="256.00" y1="122" x2="256.00" y2="125.8" stroke="#000" stroke-width="1.0"/>
<line x1="159.2" y1="122.00" x2="163" y2="122.00" stroke="#000" stroke-width="0.95"/>
<line x1="160.6" y1="120.39" x2="163" y2="120.39" stroke="#000" stroke-width="0.95"/>
<line x1="160.6" y1="118.79" x2="163" y2="118.79" stroke="#000" stroke-width="0.95"/>
<line x1="160.6" y1="117.18" x2="163" y2="117.18" stroke="#000" stroke-width="0.95"/>
<line x1="160.6" y1="115.57" x2="163" y2="115.57" stroke="#000" stroke-width="0.95"/>
<line x1="160.6" y1="113.97" x2="163" y2="113.97" stroke="#000" stroke-width="0.95"/>
<line x1="160.6" y1="112.36" x2="163" y2="112.36" stroke="#000" stroke-width="0.95"/>
<line x1="160.6" y1="110.75" x2="163" y2="110.75" stroke="#000" stroke-width="0.95"/>
<line x1="160.6" y1="109.15" x2="163" y2="109.15" stroke="#000" stroke-width="0.95"/>
<line x1="160.6" y1="107.54" x2="163" y2="107.54" stroke="#000" stroke-width="0.95"/>
<line x1="160.6" y1="105.93" x2="163" y2="105.93" stroke="#000" stroke-width="0.95"/>
<line x1="159.2" y1="104.33" x2="163" y2="104.33" stroke="#000" stroke-width="0.95"/>
<line x1="160.6" y1="102.72" x2="163" y2="102.72" stroke="#000" stroke-width="0.95"/>
<line x1="160.6" y1="101.11" x2="163" y2="101.11" stroke="#000" stroke-width="0.95"/>
<line x1="160.6" y1="99.50" x2="163" y2="99.50" stroke="#000" stroke-width="0.95"/>
<line x1="160.6" y1="97.90" x2="163" y2="97.90" stroke="#000" stroke-width="0.95"/>
<line x1="160.6" y1="96.29" x2="163" y2="96.29" stroke="#000" stroke-width="0.95"/>
<line x1="160.6" y1="94.68" x2="163" y2="94.68" stroke="#000" stroke-width="0.95"/>
<line x1="160.6" y1="93.08" x2="163" y2="93.08" stroke="#000" stroke-width="0.95"/>
<line x1="160.6" y1="91.47" x2="163" y2="91.47" stroke="#000" stroke-width="0.95"/>
<line x1="160.6" y1="89.86" x2="163" y2="89.86" stroke="#000" stroke-width="0.95"/>
<line x1="160.6" y1="88.26" x2="163" y2="88.26" stroke="#000" stroke-width="0.95"/>
<line x1="159.2" y1="86.65" x2="163" y2="86.65" stroke="#000" stroke-width="0.95"/>
<line x1="160.6" y1="85.04" x2="163" y2="85.04" stroke="#000" stroke-width="0.95"/>
<line x1="160.6" y1="83.44" x2="163" y2="83.44" stroke="#000" stroke-width="0.95"/>
<line x1="160.6" y1="81.83" x2="163" y2="81.83" stroke="#000" stroke-width="0.95"/>
<line x1="160.6" y1="80.22" x2="163" y2="80.22" stroke="#000" stroke-width="0.95"/>
<line x1="160.6" y1="78.62" x2="163" y2="78.62" stroke="#000" stroke-width="0.95"/>
<line x1="160.6" y1="77.01" x2="163" y2="77.01" stroke="#000" stroke-width="0.95"/>
<line x1="160.6" y1="75.40" x2="163" y2="75.40" stroke="#000" stroke-width="0.95"/>
<line x1="160.6" y1="73.80" x2="163" y2="73.80" stroke="#000" stroke-width="0.95"/>
<line x1="160.6" y1="72.19" x2="163" y2="72.19" stroke="#000" stroke-width="0.95"/>
<line x1="160.6" y1="70.58" x2="163" y2="70.58" stroke="#000" stroke-width="0.95"/>
<line x1="159.2" y1="68.97" x2="163" y2="68.97" stroke="#000" stroke-width="0.95"/>
<line x1="160.6" y1="67.37" x2="163" y2="67.37" stroke="#000" stroke-width="0.95"/>
<line x1="160.6" y1="65.76" x2="163" y2="65.76" stroke="#000" stroke-width="0.95"/>
<line x1="160.6" y1="64.15" x2="163" y2="64.15" stroke="#000" stroke-width="0.95"/>
<line x1="160.6" y1="62.55" x2="163" y2="62.55" stroke="#000" stroke-width="0.95"/>
<line x1="160.6" y1="60.94" x2="163" y2="60.94" stroke="#000" stroke-width="0.95"/>
<line x1="160.6" y1="59.33" x2="163" y2="59.33" stroke="#000" stroke-width="0.95"/>
<line x1="160.6" y1="57.73" x2="163" y2="57.73" stroke="#000" stroke-width="0.95"/>
<line x1="160.6" y1="56.12" x2="163" y2="56.12" stroke="#000" stroke-width="0.95"/>
<line x1="160.6" y1="54.51" x2="163" y2="54.51" stroke="#000" stroke-width="0.95"/>
<line x1="160.6" y1="52.91" x2="163" y2="52.91" stroke="#000" stroke-width="0.95"/>
<line x1="159.2" y1="51.30" x2="163" y2="51.30" stroke="#000" stroke-width="0.95"/>
<clipPath id="cclip"><rect x="163" y="51.3" width="93" height="70.7"/></clipPath>
<g clip-path="url(#cclip)">
<g fill="none" stroke="#000" stroke-width="1.0" stroke-linejoin="round">
<path d="M183.5 63.0 Q183.9 63.3 183.6 63.6 Q183.4 63.9 182.9 64.1 Q182.4 64.3 181.6 64.4 Q180.8 64.5 179.9 64.6 Q179.1 64.6 178.3 64.5 Q177.5 64.4 177.0 64.1 Q176.5 63.9 176.5 63.6 Q176.5 63.3 176.5 63.0 Q176.6 62.7 177.1 62.5 Q177.7 62.3 178.5 62.2 Q179.2 62.1 180.1 62.0 Q180.9 61.9 181.8 62.1 Q182.6 62.2 182.9 62.5 Q183.1 62.8 183.5 63.0Z"/>
<path d="M187.1 62.9 Q187.2 63.4 186.9 64.0 Q186.6 64.6 185.8 65.1 Q184.9 65.7 183.2 65.8 Q181.5 66.0 179.8 66.0 Q178.1 66.0 176.6 65.8 Q175.0 65.5 174.3 65.0 Q173.5 64.5 172.9 64.0 Q172.3 63.4 172.6 62.9 Q172.9 62.3 173.9 61.8 Q174.8 61.3 176.6 61.2 Q178.3 61.1 179.8 61.1 Q181.4 61.0 182.7 61.3 Q184.1 61.6 185.5 61.9 Q187.0 62.3 187.1 62.9Z"/>
<path d="M190.0 62.8 Q190.5 63.6 190.2 64.5 Q189.8 65.3 188.3 66.0 Q186.7 66.8 184.3 66.9 Q181.9 67.1 179.6 67.1 Q177.4 67.0 175.2 66.8 Q172.9 66.6 171.5 65.9 Q170.1 65.2 169.0 64.4 Q167.9 63.6 168.6 62.7 Q169.3 61.8 171.0 61.2 Q172.6 60.5 174.9 60.1 Q177.1 59.8 179.6 59.7 Q182.1 59.7 184.0 60.2 Q186.0 60.8 187.7 61.3 Q189.4 61.9 190.0 62.8Z"/>
<path d="M192.3 62.6 Q192.7 63.8 192.6 64.9 Q192.5 66.1 190.5 67.0 Q188.5 68.0 185.6 68.6 Q182.7 69.2 179.6 68.8 Q176.5 68.5 173.8 68.0 Q171.1 67.6 169.4 66.7 Q167.7 65.8 166.9 64.8 Q166.2 63.8 166.2 62.6 Q166.2 61.4 168.8 60.7 Q171.3 60.0 173.8 59.3 Q176.3 58.6 179.3 58.8 Q182.3 59.0 185.1 59.4 Q187.8 59.9 189.8 60.7 Q191.8 61.5 192.3 62.6Z"/>
<path d="M193.4 62.6 Q193.9 63.9 194.1 65.3 Q194.2 66.8 191.8 67.9 Q189.5 69.1 186.3 69.9 Q183.1 70.7 179.4 70.3 Q175.8 69.9 172.8 69.3 Q169.7 68.7 166.9 67.7 Q164.1 66.8 163.4 65.4 Q162.7 63.9 164.0 62.6 Q165.4 61.2 167.1 60.0 Q168.9 58.7 172.3 58.3 Q175.7 57.8 179.3 57.6 Q183.0 57.3 185.7 58.3 Q188.4 59.3 190.6 60.3 Q192.8 61.3 193.4 62.6Z"/>
<path d="M175.5 62.1 Q175.8 62.5 175.6 63.0 Q175.4 63.4 174.5 63.7 Q173.6 64.0 172.5 64.0 Q171.4 64.1 170.5 63.8 Q169.6 63.5 169.5 63.0 Q169.3 62.5 169.6 62.1 Q169.9 61.7 170.6 61.3 Q171.3 60.9 172.4 61.0 Q173.5 61.1 174.4 61.3 Q175.2 61.6 175.5 62.1Z"/>
<path d="M190.9 63.9 Q191.3 64.5 190.9 65.0 Q190.5 65.6 189.6 66.0 Q188.7 66.4 187.5 66.3 Q186.3 66.3 185.4 65.9 Q184.5 65.6 184.1 65.0 Q183.6 64.5 183.8 63.9 Q184.0 63.2 185.1 62.9 Q186.2 62.5 187.5 62.5 Q188.8 62.5 189.7 62.9 Q190.6 63.4 190.9 63.9Z"/>
<path d="M227.2 64.2 Q227.4 64.6 227.2 65.1 Q227.0 65.6 226.4 66.0 Q225.8 66.4 225.0 66.6 Q224.2 66.8 223.4 66.7 Q222.6 66.6 221.9 66.4 Q221.3 66.2 220.9 65.8 Q220.6 65.4 220.8 64.9 Q220.9 64.4 221.6 64.0 Q222.2 63.7 223.0 63.6 Q223.8 63.4 224.6 63.4 Q225.4 63.4 226.2 63.6 Q226.9 63.8 227.2 64.2Z"/>
<path d="M228.8 64.0 Q229.2 64.8 229.2 65.7 Q229.2 66.6 228.1 67.4 Q227.1 68.1 225.6 68.4 Q224.2 68.8 222.8 68.6 Q221.4 68.4 220.0 68.1 Q218.7 67.7 218.2 66.9 Q217.7 66.0 218.1 65.1 Q218.6 64.2 219.6 63.5 Q220.6 62.8 222.0 62.5 Q223.5 62.2 224.8 62.3 Q226.1 62.5 227.3 62.9 Q228.5 63.2 228.8 64.0Z"/>
<path d="M231.3 63.8 Q232.5 64.9 231.4 66.1 Q230.4 67.4 229.0 68.3 Q227.7 69.2 225.9 70.2 Q224.2 71.2 222.2 70.7 Q220.2 70.2 218.8 69.4 Q217.3 68.7 216.3 67.7 Q215.2 66.7 215.9 65.4 Q216.5 64.2 217.6 62.9 Q218.7 61.7 220.9 61.5 Q223.1 61.2 225.3 61.0 Q227.6 60.7 228.9 61.7 Q230.2 62.7 231.3 63.8Z"/>
<path d="M232.9 63.7 Q234.2 65.1 233.7 66.8 Q233.1 68.5 231.2 69.8 Q229.3 71.2 226.7 71.4 Q224.0 71.7 221.4 71.8 Q218.9 72.0 217.1 71.0 Q215.2 70.0 214.3 68.6 Q213.4 67.3 214.3 65.8 Q215.1 64.3 216.7 63.1 Q218.2 61.8 220.5 61.1 Q222.8 60.3 225.2 60.6 Q227.6 60.8 229.6 61.6 Q231.6 62.3 232.9 63.7Z"/>
<path d="M215.5 70 Q217 75 220.5 78 Q222.5 82 222 87"/>
<path d="M217.5 71.5 Q219.5 76 222.5 78.5"/>
<path d="M233 69.5 Q229 74 225 77 Q223 82 224 87"/>
<path d="M193 59.5 Q199 58 203 61 T211 63"/><path d="M194 64 Q200 66 204 64 T212 67"/><path d="M193 69 Q199 71 204 68.5 T211 71"/><path d="M196 72.5 Q202 74.5 207 72 T212 75"/>
<path d="M163 77.4 Q166.5 71.8 170.5 75.6 T178 76.8 T185.5 74.8 T193 77.2 T200 77.8 T205.5 80.6 T209.5 85.6 T212 91.6" stroke-width="1.3"/>
<path d="M163 79.9 Q166.5 74.6 170.5 78.1 T178 79.3 T185.5 77.3 T193 79.7 T200 80.6 T205.5 83.6 T209.5 88.5 T212 94.1" stroke-width="1.3"/>
<path d="M163 82.5 Q166.5 77.5 170.5 80.7 T178 81.9 T185.5 79.9 T193 82.3 T200 83.5 T205.5 86.7 T209.5 91.5 T212 96.7" stroke-width="1.3"/>
<path d="M163 85.0 Q166.5 80.3 170.5 83.2 T178 84.5 T185.5 82.5 T193 84.8 T200 86.4 T205.5 89.8 T209.5 94.5 T212 99.2" stroke-width="1.3"/>
<path d="M163 87.6 Q166.5 83.2 170.5 85.8 T178 87.0 T185.5 85.0 T193 87.4 T200 89.2 T205.5 92.8 T209.5 97.4 T212 101.8" stroke-width="1.3"/>
<path d="M163 90.1 Q166.5 86.0 170.5 88.3 T178 89.5 T185.5 87.5 T193 89.9 T200 92.0 T205.5 95.8 T209.5 100.3 T212 104.3" stroke-width="1.3"/>
<path d="M163 92.7 Q166.5 88.9 170.5 90.9 T178 92.1 T185.5 90.1 T193 92.5 T200 94.9 T205.5 98.9 T209.5 103.3 T212 106.9" stroke-width="1.3"/>
<path d="M200 84 Q205 86 208 91 T210 100" stroke-width="1.6"/>
<path d="M202 82 Q207 83 210.5 88" stroke-width="1.4"/>
<path d="M172.7 108.0 Q172.8 108.3 172.7 108.6 Q172.5 108.9 172.3 109.1 Q172.0 109.3 171.7 109.4 Q171.3 109.6 170.9 109.5 Q170.5 109.4 170.3 109.1 Q170.0 108.9 169.9 108.6 Q169.8 108.3 169.9 108.0 Q170.0 107.7 170.3 107.5 Q170.5 107.2 170.9 107.2 Q171.3 107.1 171.7 107.1 Q172.1 107.2 172.4 107.4 Q172.6 107.7 172.7 108.0Z"/>
<path d="M174.1 107.7 Q174.4 108.3 174.0 108.9 Q173.7 109.4 173.2 109.9 Q172.7 110.3 172.0 110.4 Q171.3 110.6 170.5 110.5 Q169.7 110.5 169.2 110.0 Q168.6 109.5 168.4 108.9 Q168.1 108.3 168.5 107.7 Q168.9 107.2 169.3 106.7 Q169.8 106.2 170.6 106.2 Q171.3 106.1 172.0 106.2 Q172.7 106.3 173.3 106.7 Q173.9 107.1 174.1 107.7Z"/>
<path d="M175.4 107.3 Q175.5 108.3 175.4 109.2 Q175.3 110.2 174.4 110.7 Q173.4 111.2 172.4 111.6 Q171.3 111.9 170.1 111.7 Q169.0 111.5 168.1 110.8 Q167.2 110.2 167.0 109.2 Q166.8 108.3 167.1 107.4 Q167.4 106.5 168.3 106.0 Q169.2 105.4 170.3 105.1 Q171.3 104.7 172.4 105.0 Q173.5 105.2 174.5 105.8 Q175.4 106.4 175.4 107.3Z"/>
<path d="M176.9 107.1 Q177.2 108.3 176.9 109.5 Q176.5 110.7 175.5 111.7 Q174.5 112.7 172.9 112.8 Q171.3 112.9 169.9 112.6 Q168.4 112.3 167.5 111.4 Q166.5 110.5 166.1 109.4 Q165.7 108.3 166.1 107.2 Q166.5 106.1 167.5 105.2 Q168.5 104.4 169.9 103.9 Q171.3 103.5 172.9 103.7 Q174.5 103.8 175.6 104.8 Q176.7 105.8 176.9 107.1Z"/>
<path d="M178.2 106.8 Q178.5 108.3 178.2 109.8 Q177.8 111.3 176.3 112.2 Q174.8 113.1 173.0 113.6 Q171.3 114.1 169.6 113.6 Q167.8 113.1 166.6 112.1 Q165.3 111.1 164.7 109.7 Q164.1 108.3 164.6 106.9 Q165.2 105.5 166.4 104.4 Q167.7 103.3 169.5 102.7 Q171.3 102.1 173.0 102.8 Q174.8 103.5 176.3 104.4 Q177.9 105.2 178.2 106.8Z"/>
<path d="M194.3 105.2 Q194.4 105.6 194.4 105.9 Q194.3 106.3 194.2 106.7 Q194.0 107.1 193.6 107.2 Q193.3 107.4 192.9 107.4 Q192.5 107.5 192.1 107.4 Q191.7 107.3 191.5 107.1 Q191.2 106.8 191.1 106.4 Q191.0 106.0 191.0 105.7 Q191.0 105.3 191.2 105.0 Q191.4 104.6 191.7 104.4 Q192.1 104.2 192.4 104.1 Q192.8 104.0 193.2 104.1 Q193.6 104.2 193.9 104.5 Q194.1 104.8 194.3 105.2Z"/>
<path d="M196.1 104.7 Q196.5 105.3 196.2 106.0 Q196.0 106.7 195.7 107.3 Q195.5 108.0 194.7 108.3 Q193.9 108.6 193.2 108.7 Q192.5 108.9 191.7 108.8 Q190.9 108.7 190.4 108.1 Q189.9 107.5 189.6 106.9 Q189.3 106.3 189.5 105.6 Q189.6 104.9 189.9 104.3 Q190.1 103.6 190.8 103.1 Q191.5 102.7 192.3 102.8 Q193.1 102.8 193.8 103.0 Q194.5 103.2 195.1 103.6 Q195.7 104.0 196.1 104.7Z"/>
<path d="M197.8 104.1 Q198.1 105.1 197.9 106.0 Q197.8 107.0 197.3 108.0 Q196.9 109.0 195.8 109.4 Q194.7 109.9 193.6 110.0 Q192.4 110.0 191.3 109.9 Q190.1 109.8 189.4 109.0 Q188.8 108.2 188.4 107.4 Q188.0 106.5 188.1 105.6 Q188.3 104.6 188.7 103.7 Q189.2 102.8 190.1 102.1 Q191.1 101.5 192.3 101.4 Q193.5 101.3 194.6 101.7 Q195.6 102.1 196.6 102.6 Q197.6 103.1 197.8 104.1Z"/>
<path d="M199.7 103.5 Q200.0 104.8 199.9 106.1 Q199.8 107.4 198.9 108.5 Q198.0 109.6 196.8 110.6 Q195.6 111.5 194.0 111.4 Q192.4 111.2 190.8 111.2 Q189.2 111.2 188.1 110.3 Q187.0 109.3 186.5 108.0 Q185.9 106.8 186.0 105.5 Q186.2 104.1 187.3 103.1 Q188.4 102.1 189.5 101.1 Q190.7 100.2 192.3 100.0 Q193.9 99.9 195.2 100.4 Q196.6 101.0 198.0 101.6 Q199.3 102.3 199.7 103.5Z"/>
<path d="M201.3 103.1 Q201.8 104.6 201.5 106.2 Q201.2 107.7 200.5 109.3 Q199.7 110.8 197.9 111.6 Q196.1 112.4 194.2 112.7 Q192.3 113.0 190.4 112.6 Q188.6 112.1 187.3 111.0 Q186.0 109.9 185.2 108.5 Q184.4 107.0 184.5 105.4 Q184.6 103.7 186.0 102.5 Q187.4 101.3 188.9 100.2 Q190.3 99.1 192.3 99.0 Q194.2 98.9 196.1 99.1 Q198.0 99.4 199.4 100.5 Q200.8 101.6 201.3 103.1Z"/>
<path d="M202.4 102.8 Q203.2 104.4 203.2 106.3 Q203.2 108.1 201.9 109.7 Q200.5 111.3 198.7 112.4 Q196.8 113.6 194.6 113.8 Q192.3 114.0 189.9 113.9 Q187.6 113.7 186.0 112.2 Q184.5 110.8 183.6 109.1 Q182.6 107.3 182.8 105.3 Q182.9 103.3 184.5 101.7 Q186.0 100.1 188.0 99.0 Q189.9 98.0 192.2 97.8 Q194.5 97.7 196.8 97.9 Q199.2 98.0 200.5 99.6 Q201.7 101.1 202.4 102.8Z"/>
<path d="M204.1 102.3 Q205.0 104.2 205.2 106.4 Q205.5 108.6 204.1 110.7 Q202.8 112.8 200.1 113.8 Q197.5 114.8 194.8 115.6 Q192.1 116.3 189.6 115.4 Q187.1 114.4 185.1 113.0 Q183.0 111.7 181.9 109.6 Q180.7 107.6 181.6 105.4 Q182.5 103.2 184.0 101.4 Q185.5 99.7 187.6 98.4 Q189.7 97.1 192.3 96.8 Q194.8 96.6 197.4 96.9 Q200.0 97.2 201.7 98.8 Q203.3 100.3 204.1 102.3Z"/>
<path d="M207.0 101.4 Q208.0 103.8 207.9 106.4 Q207.7 109.0 205.8 111.3 Q203.9 113.5 201.2 115.1 Q198.6 116.8 195.4 116.6 Q192.2 116.4 189.2 116.1 Q186.2 115.8 184.1 114.1 Q182.0 112.3 181.1 110.0 Q180.3 107.7 180.1 105.1 Q179.9 102.6 182.0 100.6 Q184.1 98.5 186.4 96.6 Q188.8 94.7 192.0 94.8 Q195.2 94.8 198.2 95.3 Q201.2 95.8 203.6 97.4 Q206.0 99.0 207.0 101.4Z"/>
<path d="M208.5 101.0 Q209.8 103.6 208.8 106.3 Q207.8 109.0 206.1 111.4 Q204.4 113.8 201.8 115.7 Q199.1 117.6 195.6 117.9 Q192.1 118.1 188.6 117.8 Q185.0 117.5 182.5 115.5 Q180.0 113.5 178.7 110.8 Q177.5 108.1 178.3 105.3 Q179.2 102.4 180.7 99.7 Q182.2 97.1 185.4 95.6 Q188.6 94.1 192.2 93.3 Q195.7 92.6 198.8 93.8 Q202.0 95.0 204.6 96.7 Q207.2 98.4 208.5 101.0Z"/>
<path d="M192.4 105.8 Q192.6 106.8 192.4 107.8 Q192.2 108.7 190.8 109.4 Q189.5 110.1 188.1 110.6 Q186.6 111.2 184.8 111.3 Q183.0 111.4 181.1 111.3 Q179.3 111.3 177.8 110.7 Q176.4 110.1 175.4 109.3 Q174.3 108.6 173.7 107.7 Q173.1 106.8 173.8 105.9 Q174.5 105.0 175.5 104.3 Q176.4 103.5 177.9 103.0 Q179.4 102.5 181.2 102.2 Q183.0 101.9 184.8 102.1 Q186.7 102.4 188.3 102.9 Q189.9 103.4 191.0 104.1 Q192.2 104.9 192.4 105.8Z"/>
<path d="M195.7 105.5 Q196.1 106.8 195.7 108.1 Q195.3 109.4 193.5 110.2 Q191.6 111.1 189.6 111.8 Q187.7 112.4 185.3 113.0 Q183.0 113.5 180.6 113.1 Q178.2 112.6 176.2 111.9 Q174.2 111.2 172.7 110.2 Q171.2 109.2 170.7 108.0 Q170.1 106.8 170.5 105.5 Q170.9 104.3 172.4 103.3 Q173.9 102.2 176.0 101.5 Q178.1 100.9 180.5 100.5 Q183.0 100.2 185.4 100.6 Q187.8 101.0 189.9 101.7 Q192.0 102.3 193.7 103.3 Q195.3 104.3 195.7 105.5Z"/>
<path d="M198.1 105.3 Q198.5 106.8 198.2 108.3 Q198.0 109.9 195.9 111.1 Q193.9 112.2 191.6 113.4 Q189.4 114.5 186.2 114.5 Q183.0 114.6 180.0 114.4 Q176.9 114.2 174.1 113.4 Q171.4 112.6 169.5 111.3 Q167.6 110.0 167.2 108.4 Q166.9 106.8 167.4 105.2 Q168.0 103.7 169.8 102.4 Q171.6 101.1 174.2 100.1 Q176.7 99.2 179.8 99.1 Q183.0 99.0 186.1 99.1 Q189.2 99.3 191.8 100.2 Q194.4 101.1 196.1 102.4 Q197.7 103.7 198.1 105.3Z"/>
<path d="M201.8 104.9 Q202.8 106.8 201.3 108.6 Q199.9 110.3 198.5 112.1 Q197.0 113.8 193.6 114.7 Q190.2 115.5 186.6 115.7 Q183.0 115.9 179.5 115.6 Q176.0 115.3 172.7 114.4 Q169.4 113.6 167.2 112.1 Q165.0 110.5 164.1 108.7 Q163.2 106.8 163.9 104.9 Q164.7 103.0 167.3 101.6 Q170.0 100.3 172.7 98.9 Q175.4 97.6 179.2 97.6 Q183.0 97.6 186.8 97.6 Q190.6 97.6 193.6 98.8 Q196.5 100.0 198.7 101.6 Q200.9 103.1 201.8 104.9Z"/>
<path d="M204.6 104.6 Q204.6 106.8 203.8 108.9 Q203.1 111.0 201.2 113.0 Q199.4 115.0 195.5 116.1 Q191.6 117.2 187.3 117.5 Q183.0 117.8 178.8 117.4 Q174.6 117.0 170.8 115.9 Q167.1 114.8 164.9 112.9 Q162.7 111.0 161.4 108.9 Q160.1 106.8 161.6 104.7 Q163.1 102.7 165.2 100.8 Q167.4 99.0 171.0 97.8 Q174.6 96.7 178.8 96.0 Q183.0 95.3 187.4 95.7 Q191.9 96.1 195.4 97.5 Q198.9 98.9 201.7 100.6 Q204.5 102.3 204.6 104.6Z"/>
<path d="M207.1 104.4 Q208.3 106.8 207.1 109.2 Q205.9 111.5 203.9 113.9 Q201.8 116.2 197.4 117.5 Q192.9 118.8 188.0 119.2 Q183.0 119.6 178.0 119.2 Q173.0 118.9 168.6 117.5 Q164.3 116.2 161.6 114.0 Q158.9 111.8 158.6 109.3 Q158.3 106.8 158.3 104.2 Q158.2 101.7 161.9 99.9 Q165.6 98.1 169.6 96.7 Q173.6 95.4 178.3 94.9 Q183.0 94.4 187.9 94.7 Q192.7 95.1 197.1 96.3 Q201.4 97.6 203.6 99.8 Q205.8 102.1 207.1 104.4Z"/>
<path d="M210.0 104.1 Q210.6 106.8 210.2 109.6 Q209.9 112.4 207.1 114.9 Q204.4 117.5 199.0 118.6 Q193.6 119.6 188.3 120.7 Q183.0 121.7 177.7 120.7 Q172.4 119.6 167.6 118.3 Q162.8 116.9 159.1 114.7 Q155.3 112.5 155.1 109.7 Q154.8 106.8 155.3 104.0 Q155.9 101.2 159.7 99.1 Q163.5 97.0 167.5 95.0 Q171.6 93.0 177.3 92.7 Q183.0 92.4 188.2 93.3 Q193.5 94.2 198.1 95.6 Q202.6 97.0 206.1 99.1 Q209.5 101.3 210.0 104.1Z"/>
<path d="M182.9 112.2 Q183.1 112.5 183.0 112.8 Q182.9 113.2 182.3 113.4 Q181.7 113.5 181.0 113.5 Q180.4 113.5 179.7 113.3 Q179.1 113.2 178.9 112.8 Q178.7 112.5 178.9 112.2 Q179.1 111.8 179.8 111.7 Q180.4 111.6 181.0 111.5 Q181.7 111.5 182.2 111.7 Q182.7 111.9 182.9 112.2Z"/>
<path d="M185.0 111.8 Q185.1 112.5 185.0 113.2 Q184.8 113.9 183.6 114.2 Q182.3 114.5 180.9 114.6 Q179.5 114.7 178.4 114.3 Q177.2 113.9 176.9 113.2 Q176.5 112.5 177.0 111.8 Q177.4 111.2 178.6 110.9 Q179.8 110.6 181.1 110.4 Q182.5 110.2 183.6 110.7 Q184.8 111.1 185.0 111.8Z"/>
<path d="M186.7 111.6 Q187.4 112.5 187.1 113.5 Q186.7 114.6 184.8 115.1 Q183.0 115.5 181.1 115.5 Q179.1 115.4 177.4 114.9 Q175.7 114.4 174.9 113.5 Q174.1 112.5 174.8 111.5 Q175.5 110.5 177.3 110.1 Q179.1 109.6 181.1 109.5 Q183.0 109.4 184.5 110.0 Q186.0 110.7 186.7 111.6Z"/>
</g>
<path d="M163 93.5 Q175 92 186 93.5 T199 96.5 L197 99.5 Q185 98 176 99.2 T163 99.5 Z" fill="#000"/>
<path d="M166 96 H184" stroke="#fff" stroke-width="0.5" fill="none"/>
<rect x="163" y="117.2" width="64" height="4.8" fill="#000" opacity="0.8"/>
<path d="M208.6 122 L208.6 102 Q208 95 211 91.5 L212 88.8 L214 89.5 L215.5 86.5 L218 87.3 L220 85.6 L223 86.4 Q227.6 88.5 228.6 96 L229.2 110 L228.4 122 Z" fill="#000"/>
<rect x="216.1" y="99.8" width="1.6" height="7.6" fill="#fff"/>
<path d="M210.2 101 l1.2 1.6 l-1.2 1.6 l1.2 1.6 l-1.2 1.6 l1.2 1.6 l-1.2 1.6 l1.2 1.6 l-1.2 1.6" stroke="#fff" stroke-width="0.55" fill="none"/>
<path d="M212.8 97 Q211.8 93 214.5 91" stroke="#fff" stroke-width="0.5" fill="none"/>
<path d="M225.8 114 Q226.8 104 224.5 94" stroke="#fff" stroke-width="0.5" fill="none"/>
<path d="M220.8 116 V102" stroke="#fff" stroke-width="0.45" fill="none" stroke-dasharray="2 1.4"/>
<path d="M222.8 97 Q221 93 218 92.5" stroke="#fff" stroke-width="0.45" fill="none"/>
</g>
<rect x="164" y="53.2" width="34.5" height="20.6" fill="none" stroke="#000" stroke-width="2"/>
<rect x="211.5" y="53.2" width="35" height="27" fill="none" stroke="#000" stroke-width="2"/>
<text x="157.4" y="79" font-size="13" text-anchor="middle" font-weight="normal" font-style="normal" transform="rotate(-90 157.4 79) translate(157.4 79) scale(1 1.12) translate(-157.4 -79)" class="big">CD11c</text>
<text class="big" x="192.3" y="139" font-size="13.5" transform="translate(0 139) scale(1 1.12) translate(0 -139)">CD8 <tspan class="gk">α</tspan></text>
<text x="1.2" y="187.6" font-size="23.4" text-anchor="start" font-weight="bold" font-style="normal" >B</text>
<line x1="37.8" y1="204.5" x2="37.8" y2="342.6" stroke="#000" stroke-width="1.2"/>
<line x1="37.199999999999996" y1="342.0" x2="237" y2="342.0" stroke="#000" stroke-width="1.3"/>
<text x="31.3" y="343.9" font-size="10" text-anchor="end" font-weight="normal" font-style="normal" >0</text>
<line x1="37.8" y1="324.88" x2="40.0" y2="324.88" stroke="#000" stroke-width="1"/>
<line x1="37.8" y1="307.75" x2="41.0" y2="307.75" stroke="#000" stroke-width="1"/>
<text x="31.3" y="309.65" font-size="10" text-anchor="end" font-weight="normal" font-style="normal" >200</text>
<line x1="37.8" y1="290.62" x2="40.0" y2="290.62" stroke="#000" stroke-width="1"/>
<line x1="37.8" y1="273.50" x2="41.0" y2="273.50" stroke="#000" stroke-width="1"/>
<text x="31.3" y="275.4" font-size="10" text-anchor="end" font-weight="normal" font-style="normal" >400</text>
<line x1="37.8" y1="256.38" x2="40.0" y2="256.38" stroke="#000" stroke-width="1"/>
<line x1="37.8" y1="239.25" x2="41.0" y2="239.25" stroke="#000" stroke-width="1"/>
<text x="31.3" y="241.15" font-size="10" text-anchor="end" font-weight="normal" font-style="normal" >600</text>
<line x1="37.8" y1="222.12" x2="40.0" y2="222.12" stroke="#000" stroke-width="1"/>
<line x1="37.8" y1="205.00" x2="41.0" y2="205.00" stroke="#000" stroke-width="1"/>
<text x="31.3" y="206.9" font-size="10" text-anchor="end" font-weight="normal" font-style="normal" >800</text>
<text x="9.4" y="271.5" font-size="10" text-anchor="middle" font-weight="normal" font-style="normal" transform="rotate(-90 9.4 271.5) translate(9.4 271.5) scale(1 1.08) translate(-9.4 -271.5)" >Mean Fluorescence intensity</text>
<rect x="40.1" y="333.35" width="7.2" height="8.65" fill="#fff" stroke="#000" stroke-width="1.3"/>
<rect x="47.5" y="334.98" width="7.4" height="7.02" fill="#000"/>
<rect x="64.69999999999999" y="309.55" width="7.2" height="32.45" fill="#fff" stroke="#000" stroke-width="1.3"/>
<rect x="72.1" y="306.38" width="7.4" height="35.62" fill="#000"/>
<rect x="89.69999999999999" y="314.69" width="7.2" height="27.31" fill="#fff" stroke="#000" stroke-width="1.3"/>
<rect x="97.1" y="319.22" width="7.4" height="22.78" fill="#000"/>
<rect x="114.69999999999999" y="247.90" width="7.2" height="94.10" fill="#fff" stroke="#000" stroke-width="1.3"/>
<rect x="122.1" y="215.62" width="7.4" height="126.38" fill="#000"/>
<rect x="143.4" y="337.12" width="7.2" height="4.88" fill="#fff" stroke="#000" stroke-width="1.3"/>
<rect x="150.8" y="338.23" width="7.4" height="3.77" fill="#000"/>
<rect x="168.4" y="330.27" width="7.2" height="11.73" fill="#fff" stroke="#000" stroke-width="1.3"/>
<rect x="175.8" y="308.44" width="7.4" height="33.57" fill="#000"/>
<rect x="193.7" y="333.70" width="7.2" height="8.31" fill="#fff" stroke="#000" stroke-width="1.3"/>
<rect x="201.1" y="325.56" width="7.4" height="16.44" fill="#000"/>
<rect x="219.29999999999998" y="327.70" width="7.2" height="14.30" fill="#fff" stroke="#000" stroke-width="1.3"/>
<rect x="226.7" y="256.03" width="7.4" height="85.97" fill="#000"/>
<line x1="62" y1="342.0" x2="62" y2="339.0" stroke="#000" stroke-width="1"/>
<line x1="87" y1="342.0" x2="87" y2="339.0" stroke="#000" stroke-width="1"/>
<line x1="112.5" y1="342.0" x2="112.5" y2="339.0" stroke="#000" stroke-width="1"/>
<line x1="138" y1="342.0" x2="138" y2="339.0" stroke="#000" stroke-width="1"/>
<line x1="162" y1="342.0" x2="162" y2="339.0" stroke="#000" stroke-width="1"/>
<line x1="187.5" y1="342.0" x2="187.5" y2="339.0" stroke="#000" stroke-width="1"/>
<line x1="212.5" y1="342.0" x2="212.5" y2="339.0" stroke="#000" stroke-width="1"/>
<line x1="237" y1="342.0" x2="237" y2="339.0" stroke="#000" stroke-width="1"/>
<text x="49.9" y="350" font-size="10.6" text-anchor="end" font-weight="normal" font-style="normal" transform="rotate(-90 49.9 350) translate(49.9 350) scale(1 0.93) translate(-49.9 -350)" >cIg</text>
<text x="76.8" y="351.6" font-size="10.6" text-anchor="end" font-weight="normal" font-style="normal" transform="rotate(-90 76.8 351.6) translate(76.8 351.6) scale(1 0.93) translate(-76.8 -351.6)" >CD80</text>
<text x="101.1" y="351.6" font-size="10.6" text-anchor="end" font-weight="normal" font-style="normal" transform="rotate(-90 101.1 351.6) translate(101.1 351.6) scale(1 0.93) translate(-101.1 -351.6)" >CD86</text>
<text x="124.9" y="348.8" font-size="10.6" text-anchor="end" font-weight="normal" font-style="normal" transform="rotate(-90 124.9 348.8) translate(124.9 348.8) scale(1 0.93) translate(-124.9 -348.8)" >I-Ab</text>
<text x="151.1" y="351" font-size="10.6" text-anchor="end" font-weight="normal" font-style="normal" transform="rotate(-90 151.1 351) translate(151.1 351) scale(1 0.93) translate(-151.1 -351)" >cIg</text>
<text x="176.4" y="345.2" font-size="10.6" text-anchor="end" font-weight="normal" font-style="normal" transform="rotate(-90 176.4 345.2) translate(176.4 345.2) scale(1 0.93) translate(-176.4 -345.2)" >CD80</text>
<text x="201.7" y="352" font-size="10.6" text-anchor="end" font-weight="normal" font-style="normal" transform="rotate(-90 201.7 352) translate(201.7 352) scale(1 0.93) translate(-201.7 -352)" >CD86</text>
<text x="229.8" y="351" font-size="10.6" text-anchor="end" font-weight="normal" font-style="normal" transform="rotate(-90 229.8 351) translate(229.8 351) scale(1 0.93) translate(-229.8 -351)" >I-Ab</text>
<line x1="46.3" y1="382.3" x2="129.6" y2="382.3" stroke="#555" stroke-width="1.5"/>
<line x1="143" y1="382.3" x2="225" y2="382.3" stroke="#555" stroke-width="1.5"/>
<text x="68.3" y="400.3" font-size="10" word-spacing="-0.3">CD8 <tspan class="gk">α</tspan> - DC</text>
<text x="163" y="401.6" font-size="10" word-spacing="-0.3">CD8 <tspan class="gk">α</tspan> + DC</text>
<rect x="171" y="200" width="6" height="6" fill="#fff" stroke="#000" stroke-width="1.3"/>
<text x="181" y="206.2" font-size="10" text-anchor="start" font-weight="normal" font-style="normal" >control Ig</text>
<rect x="170.4" y="215" width="7.2" height="7.7" fill="#000"/>
<text x="181" y="222.2" font-size="10" text-anchor="start" font-weight="normal" font-style="normal" >anti-DNAM-1</text>
<text x="200" y="234.3" font-size="10" text-anchor="middle" font-weight="bold" font-style="normal" >*</text>
<text x="206" y="232.7" font-size="10.8" font-weight="bold" word-spacing="-0.5"><tspan font-style="italic">P</tspan> &lt; .05</text>
<path d="M169 302.8 V298.6 H180 V302.8" fill="none" stroke="#000" stroke-width="1.1"/>
<path d="M196 322.5 V318.8 H207.5 V322.5" fill="none" stroke="#000" stroke-width="1.1"/>
<path d="M217.3 254.6 V250.3 H228 V254.6" fill="none" stroke="#000" stroke-width="1.1"/>
<text x="174" y="294.5" font-size="15" text-anchor="middle" font-weight="bold" font-style="normal" >*</text>
<text x="200.5" y="316.2" font-size="15" text-anchor="middle" font-weight="bold" font-style="normal" >*</text>
<text x="221.3" y="246.8" font-size="15" text-anchor="middle" font-weight="bold" font-style="normal" >*</text>
<line x1="304.5" y1="218" x2="304.5" y2="368.0" stroke="#444" stroke-width="1"/>
<line x1="304.0" y1="367.5" x2="436.5" y2="367.5" stroke="#444" stroke-width="1"/>
<line x1="304.5" y1="317.95" x2="306.7" y2="317.95" stroke="#555" stroke-width="1"/>
<line x1="304.5" y1="268.40" x2="306.7" y2="268.40" stroke="#555" stroke-width="1"/>
<line x1="304.5" y1="218.85" x2="306.7" y2="218.85" stroke="#555" stroke-width="1"/>
<text x="297.2" y="371.3" font-size="10" text-anchor="end" font-weight="normal" font-style="normal" >0</text>
<text x="301.5" y="321.75" font-size="10" text-anchor="end" font-weight="normal" font-style="normal" >500</text>
<text x="303.2" y="272.2" font-size="10" text-anchor="end" font-weight="normal" font-style="normal" >1000</text>
<text x="303.2" y="222.65" font-size="10" text-anchor="end" font-weight="normal" font-style="normal" >1500</text>
<line x1="371.2" y1="364.3" x2="371.2" y2="367" stroke="#999" stroke-width="1"/>
<line x1="436.1" y1="364.3" x2="436.1" y2="367.5" stroke="#555" stroke-width="1"/>
<text x="276" y="204" font-size="10" text-anchor="start" font-weight="normal" font-style="normal" >(pg / mL)</text>
<g transform="rotate(-90 277.1 341)"><text x="277.1" y="341" font-size="10.3" textLength="12.6" lengthAdjust="spacingAndGlyphs">IFN</text><text x="293.6" y="341.2" font-size="10" class="gk">γ</text><text x="306.3" y="341" font-size="10.15">concentrations</text></g>
<defs><pattern id="hatch" width="3.2" height="3.2" patternUnits="userSpaceOnUse" patternTransform="rotate(-40)"><rect width="3.2" height="3.2" fill="#fff"/><line x1="-1" y1="1.6" x2="4.2" y2="1.6" stroke="#000" stroke-width="1.3"/></pattern></defs>
<rect x="315.6" y="324.89" width="14.7" height="42.61" fill="#fff" stroke="#222" stroke-width="0.9"/>
<rect x="330.3" y="309.03" width="14.7" height="58.47" fill="#000"/>
<rect x="345.0" y="322.90" width="14.7" height="44.59" fill="url(#hatch)" stroke="#777" stroke-width="0.5"/>
<rect x="381.5" y="323.90" width="14.7" height="43.60" fill="#fff" stroke="#222" stroke-width="0.9"/>
<rect x="396.2" y="263.44" width="14.7" height="104.05" fill="#000"/>
<rect x="410.9" y="289.71" width="14.7" height="77.79" fill="url(#hatch)" stroke="#777" stroke-width="0.5"/>
<text x="314.6" y="386" font-size="10" word-spacing="-0.5">CD8 <tspan class="gk">α</tspan> -DC</text>
<text x="380.7" y="386" font-size="10" word-spacing="-0.6">CD8 <tspan class="gk">α</tspan> +DC</text>
<text x="332.3" y="239.2" font-size="10" text-anchor="middle" font-weight="bold" font-style="normal" >*</text>
<text x="338.8" y="237.1" font-size="10.8" font-weight="bold" word-spacing="-0.5"><tspan font-style="italic">P</tspan> &lt; .05</text>
<path d="M390 240 V227 H418 V240" fill="none" stroke="#000" stroke-width="1.1"/>
<path d="M390 258.2 V253.8 H401 V258.2" fill="none" stroke="#000" stroke-width="1.1"/>
<text x="401.3" y="222.2" font-size="15" text-anchor="middle" font-weight="bold" font-style="normal" >*</text>
<text x="395" y="250.2" font-size="15" text-anchor="middle" font-weight="bold" font-style="normal" >*</text>
<rect x="443.5" y="277" width="10" height="5.2" fill="#fff" stroke="#222" stroke-width="0.9"/>
<rect x="443" y="291.3" width="11" height="5.6" fill="#000"/>
<rect x="443.5" y="306.8" width="10" height="5.2" fill="url(#hatch)" stroke="#222" stroke-width="0.9"/>
<text x="460.7" y="282.5" font-size="10.1" text-anchor="start" font-weight="normal" font-style="normal" >control Ig</text>
<text x="460.7" y="297" font-size="10.1" text-anchor="start" font-weight="normal" font-style="normal" >anti-DNAM-1</text>
<text x="460.7" y="312.4" font-size="10.1" text-anchor="start" font-weight="normal" font-style="normal" >anti-CD40</text>
</svg>
</body></html>
